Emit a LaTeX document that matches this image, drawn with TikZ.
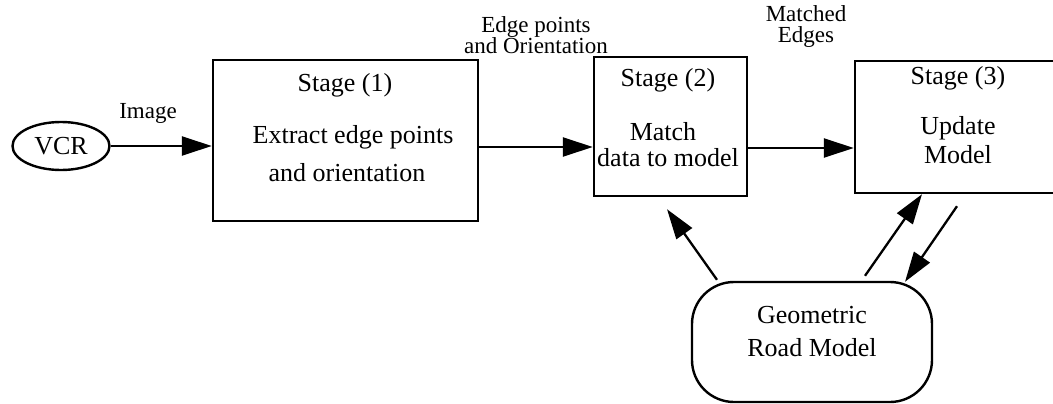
\documentclass[tikz,border=0pt]{standalone}
\usepackage{fontspec}
\setmainfont{Liberation Serif}
\usetikzlibrary{arrows.meta,shapes.geometric}
\tikzset{
  box/.style={draw, line width=2.4pt, inner sep=0pt},
  txt/.style={inner sep=0pt, font=\fontsize{26}{27}\selectfont, align=center},
  lbl/.style={inner sep=0pt, font=\fontsize{23}{21}\selectfont, align=center},
  arr/.style={line width=2.3pt, -{Triangle[length=30pt,width=19pt]}},
}
\begin{document}
\begin{tikzpicture}[x=1pt,y=-1pt]
\useasboundingbox[fill=white] (0,0) rectangle (1053,404);
% VCR
\node[draw, line width=2.4pt, ellipse, minimum width=97pt, minimum height=48pt, inner sep=0pt] (vcr) at (61,146) {};
\node[txt] (vcrt) at (61,146) {VCR};
% Stage boxes
\node[box, minimum width=265pt, minimum height=161pt] (s1) at (345.5,140.5) {};
\node[box, minimum width=153pt, minimum height=139pt] (s2) at (670.5,126.5) {};
\node[box, minimum width=210pt, minimum height=132pt] (s3) at (960,127) {};
% Road model
\node[draw, line width=2.4pt, rounded corners=42pt, minimum width=240pt, minimum height=120pt, inner sep=0pt] (rm) at (812,342) {};
% texts
\node[txt] (s1t) at (345,85) {Stage (1)};
\node[txt] (s1a) at (353,137) {Extract edge points};
\node[txt] (s1b) at (347,173) {and orientation};
\node[txt] (s2t) at (668,80) {Stage (2)};
\node[txt] (s2a) at (663,132) {Match};
\node[txt] (s2b) at (668,158) {data to model};
\node[txt] (s3t) at (958,78) {Stage (3)};
\node[txt] (s3a) at (958,128) {Update};
\node[txt] (s3b) at (958,155) {Model};
\node[txt] (rma) at (812,315) {Geometric};
\node[txt] (rmb) at (812,348) {Road Model};
% labels
\node[lbl] (limg) at (148,113) {Image};
\node[lbl] (lep) at (536,35) {Edge points\\and Orientation};
\node[lbl] (lme) at (806,27) {Matched\\Edges};
% connectors
\draw[arr] (vcr.east) -- (s1.west |- vcr.east);
\draw[arr] ([yshift=-6.5pt]s1.east) -- ([yshift=-20.5pt]s2.west);
\draw[arr] ([yshift=-21.5pt]s2.east) -- ([yshift=-21pt]s3.west);
\coordinate (c2) at ([xshift=-3.5pt,yshift=-12pt]s2.south);
\draw[arr] ([xshift=-95pt,yshift=1pt]rm.north) -- (c2);
\draw[arr] ([xshift=53pt,yshift=5pt]rm.north) -- ([xshift=-38pt]s3.south);
\coordinate (c3) at ([xshift=-3pt,yshift=-12pt]s3.south);
\draw[arr] (c3) -- ([xshift=93pt,yshift=-1pt]rm.north);
\end{tikzpicture}
\end{document}
